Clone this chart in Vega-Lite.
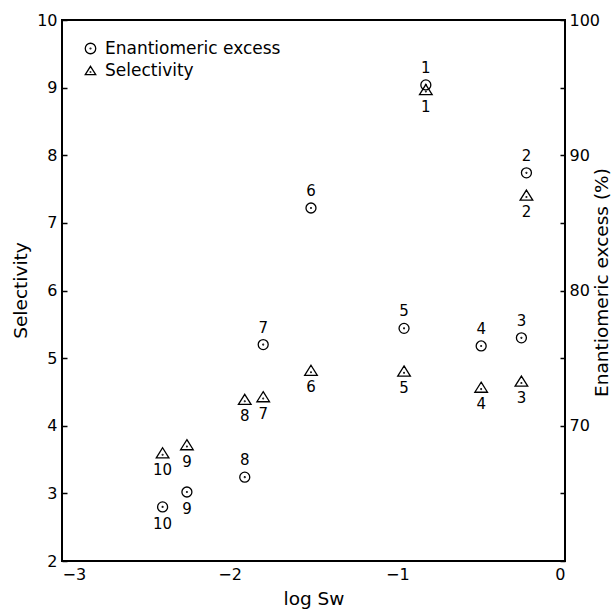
{
  "$schema": "https://vega.github.io/schema/vega-lite/v6.json",
  "width": 503,
  "height": 541,
  "autosize": {"type": "none"},
  "padding": {"left": 62, "top": 20, "right": 51, "bottom": 49},
  "background": "white",
  "config": {
    "font": "DejaVu Sans",
    "view": {"stroke": "black", "strokeWidth": 2},
    "axis": {
      "domain": false,
      "grid": false,
      "zindex": 2,
      "tickColor": "black",
      "tickWidth": 1.5,
      "tickSize": 5,
      "labelColor": "black",
      "labelFont": "DejaVu Sans",
      "labelFontSize": 16,
      "titleFont": "DejaVu Sans",
      "titleFontSize": 18.5,
      "titleFontWeight": "normal",
      "titleColor": "black"
    },
    "text": {"font": "DejaVu Sans", "fontSize": 15, "color": "black"}
  },
  "data": {
    "values": [
      {"id": 1, "logSw": -0.83, "selectivity": 8.97, "ee": 95.2},
      {"id": 2, "logSw": -0.23, "selectivity": 7.41, "ee": 88.7},
      {"id": 3, "logSw": -0.26, "selectivity": 4.66, "ee": 76.5},
      {"id": 4, "logSw": -0.5, "selectivity": 4.57, "ee": 75.9},
      {"id": 5, "logSw": -0.96, "selectivity": 4.81, "ee": 77.2},
      {"id": 6, "logSw": -1.515, "selectivity": 4.82, "ee": 86.1},
      {"id": 7, "logSw": -1.8, "selectivity": 4.43, "ee": 76.0},
      {"id": 8, "logSw": -1.91, "selectivity": 4.39, "ee": 66.2},
      {"id": 9, "logSw": -2.255, "selectivity": 3.72, "ee": 65.1},
      {"id": 10, "logSw": -2.4, "selectivity": 3.6, "ee": 64.0}
    ]
  },
  "encoding": {
    "x": {
      "field": "logSw",
      "type": "quantitative",
      "scale": {"domain": [-3, 0], "nice": false, "zero": false},
      "axis": {
        "values": [-3, -2, -1, 0],
        "ticks": false,
        "labelPadding": 5,
        "title": "log  Sw",
        "titleY": 37,
        "titleBaseline": "middle"
      }
    }
  },
  "layer": [
    {
      "encoding": {
        "y": {
          "field": "selectivity",
          "type": "quantitative",
          "scale": {"domain": [2, 10], "nice": false, "zero": false},
          "axis": {
            "orient": "left",
            "offset": -5,
            "values": [2, 3, 4, 5, 6, 7, 8, 9, 10],
            "labelPadding": 5,
            "title": "Selectivity",
            "titleAngle": 270,
            "titleX": -47,
            "titleY": 270,
            "titleAlign": "center",
            "titleBaseline": "middle"
          }
        }
      },
      "layer": [
        {
          "mark": {"type": "point", "filled": false, "stroke": "black", "strokeWidth": 1.3, "size": 160, "opacity": 1},
          "encoding": {
            "shape": {
              "datum": "Selectivity",
              "scale": {
                "domain": ["Enantiomeric excess", "Selectivity"],
                "range": [
                  "M-1,0A1,1 0 1,1 1,0A1,1 0 1,1 -1,0Z M-0.08,0A0.08,0.08 0 1,1 0.08,0A0.08,0.08 0 1,1 -0.08,0Z",
                  "M0,-0.8L1,0.8L-1,0.8Z M-0.06,0.3A0.06,0.06 0 1,1 0.06,0.3A0.06,0.06 0 1,1 -0.06,0.3Z"
                ]
              },
              "legend": {
                "orient": "none",
                "legendX": 20,
                "legendY": 20,
                "title": null,
                "labelFont": "DejaVu Sans",
                "labelFontSize": 17,
                "labelColor": "black",
                "labelLimit": 300,
                "symbolSize": 110,
                "symbolStrokeColor": "black",
                "symbolStrokeWidth": 1.3,
                "symbolFillColor": "transparent",
                "rowPadding": 4,
                "labelOffset": 6
              }
            }
          }
        },
        {
          "mark": {"type": "text", "dy": 17, "align": "center", "baseline": "middle"},
          "encoding": {"text": {"field": "id", "type": "nominal"}}
        }
      ]
    },
    {
      "encoding": {
        "y": {
          "field": "ee",
          "type": "quantitative",
          "scale": {"domain": [60, 100], "nice": false, "zero": false},
          "axis": {
            "orient": "right",
            "offset": -5,
            "values": [60, 65, 70, 75, 80, 85, 90, 95, 100],
            "labelExpr": "datum.value % 10 == 0 && datum.value > 60 ? datum.label : ''",
            "labelPadding": 4,
            "title": "Enantiomeric excess  (%)",
            "titleAngle": 270,
            "titleX": 41,
            "titleY": 262,
            "titleAlign": "center",
            "titleBaseline": "middle"
          }
        }
      },
      "layer": [
        {
          "mark": {"type": "point", "filled": false, "stroke": "black", "strokeWidth": 1.3, "size": 100, "opacity": 1},
          "encoding": {"shape": {"datum": "Enantiomeric excess"}}
        },
        {
          "transform": [{"filter": "datum.id <= 8"}],
          "mark": {"type": "text", "dy": -17, "align": "center", "baseline": "middle"},
          "encoding": {"text": {"field": "id", "type": "nominal"}}
        },
        {
          "transform": [{"filter": "datum.id >= 9"}],
          "mark": {"type": "text", "dy": 17, "align": "center", "baseline": "middle"},
          "encoding": {"text": {"field": "id", "type": "nominal"}}
        }
      ]
    }
  ],
  "resolve": {"scale": {"y": "independent"}}
}
